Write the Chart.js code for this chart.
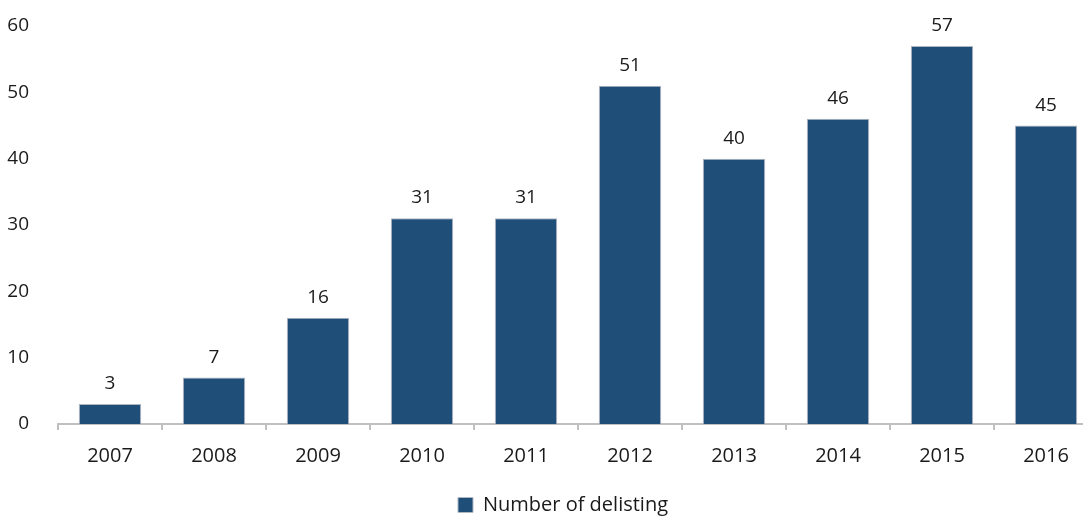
<!DOCTYPE html>
<html>
<head>
<meta charset="utf-8">
<script src="https://cdn.jsdelivr.net/npm/chart.js@4"></script>
<style>
  html, body { margin: 0; padding: 0; background: #fff; overflow: hidden; }
  #wrap { width: 1100px; height: 516px; }
</style>
</head>
<body>
<div id="wrap"><canvas id="delisting" width="1100" height="516"></canvas></div>
<script>
// Delistings per year
const years = ["2007", "2008", "2009", "2010", "2011", "2012", "2013", "2014", "2015", "2016"];
const delistings = [3, 7, 16, 31, 31, 51, 40, 46, 57, 45];
const yTicks = [0, 10, 20, 30, 40, 50, 60];

const FONT = "'Open Sans', 'Noto Sans', sans-serif";
const barColor = "#1f4e79";

// Writes each bar's value just above it
const valueLabels = {
  id: "valueLabels",
  afterDatasetsDraw(chart) {
    const ctx = chart.ctx;
    const meta = chart.getDatasetMeta(0);
    ctx.save();
    ctx.font = "19px " + FONT;
    ctx.fillStyle = "#1a1a1a";
    ctx.textAlign = "center";
    ctx.textBaseline = "alphabetic";
    meta.data.forEach((bar, i) => {
      ctx.fillText(String(delistings[i]), bar.x, bar.y - 15);
    });
    ctx.restore();
  }
};

// Nudges the legend right and down a little
const legendShift = {
  id: "legendShift",
  afterLayout(chart) {
    const lg = chart.legend;
    if (lg) {
      lg.left += 14;
      lg.right += 14;
      lg.top += 9;
      lg.bottom += 9;
    }
  }
};

new Chart(document.getElementById("delisting"), {
  type: "bar",
  data: {
    labels: years,
    datasets: [
      {
        label: "Number of delisting",
        data: delistings,
        backgroundColor: barColor,
        borderColor: "#b0b7c0",
        borderWidth: 1,
        borderSkipped: "bottom",
        barPercentage: 0.6,
        categoryPercentage: 1.0,
      },
    ],
  },
  options: {
    responsive: false,
    animation: false,
    layout: { padding: { left: 0, right: 2, top: 26, bottom: 0 } },
    plugins: {
      tooltip: { enabled: false },
      legend: {
        position: "bottom",
        labels: {
          boxWidth: 15,
          boxHeight: 15,
          padding: 3,
          color: "#1a1a1a",
          font: { family: FONT, size: 20 },
        },
      },
    },
    scales: {
      x: {
        grid: {
          offset: true,
          drawOnChartArea: false,
          drawTicks: true,
          tickLength: 6,
          color: "#c0c0c0",
          lineWidth: 2,
        },
        border: { color: "#c0c0c0", width: 2 },
        ticks: {
          color: "#1a1a1a",
          padding: 14,
          font: { family: FONT, size: 20 },
        },
        afterFit(scale) {
          scale.height = 59;
        },
      },
      y: {
        min: 0,
        max: 60,
        afterBuildTicks(scale) {
          scale.ticks = yTicks.map((v) => ({ value: v }));
        },
        grid: { display: false },
        border: { display: false },
        ticks: {
          color: "#1a1a1a",
          padding: 21,
          font: { family: FONT, size: 19 },
        },
        afterFit(scale) {
          scale.width = 58;
          scale.paddingTop = 0;
          scale.paddingBottom = 0;
        },
      },
    },
  },
  plugins: [valueLabels, legendShift],
});
</script>
</body>
</html>
